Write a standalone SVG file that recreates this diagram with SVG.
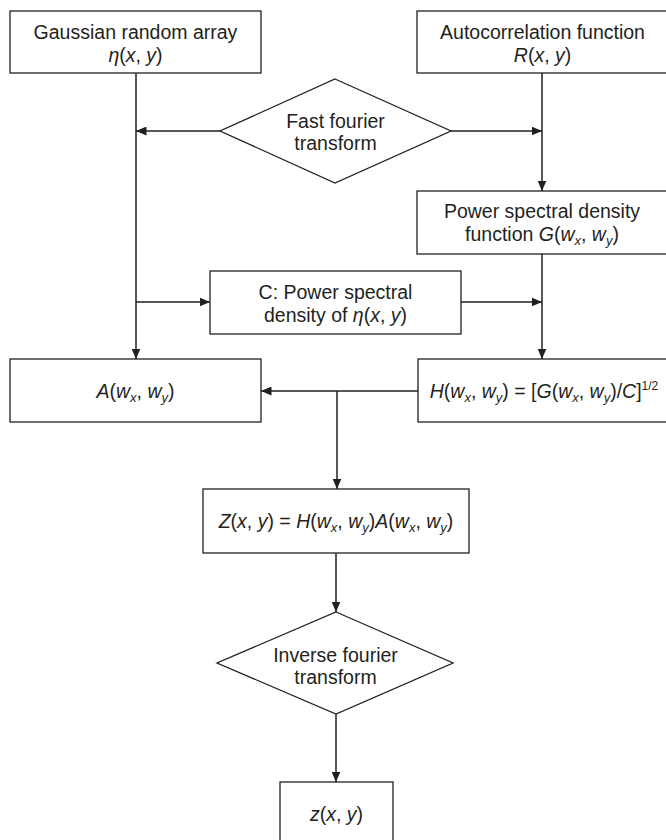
<svg xmlns="http://www.w3.org/2000/svg" width="666" height="840" viewBox="0 0 666 840">
<style>
.box{fill:#fff;stroke:#231f20;stroke-width:1.3}
.t{font-family:"Liberation Sans",Arial,sans-serif;font-size:19.5px;fill:#231f20;text-anchor:middle}
.i{font-style:italic}
.sub{font-size:13px;font-style:italic}
.sup{font-size:12px}
.c{stroke:#231f20;stroke-width:1.5;fill:none;marker-end:url(#ah)}
</style>
<defs>
<marker id="ah" markerUnits="userSpaceOnUse" markerWidth="11" markerHeight="9" refX="10.5" refY="4.5" orient="auto">
<path d="M0,0 L10.5,4.5 L0,9 z" fill="#231f20"/>
</marker>
</defs>
<rect width="666" height="840" fill="#fff"/>

<g id="connectors">
<line class="c" x1="136" y1="73" x2="136" y2="359"/>
<line class="c" x1="220" y1="131" x2="136" y2="131"/>
<line class="c" x1="451" y1="131" x2="542" y2="131"/>
<line class="c" x1="542" y1="73" x2="542" y2="191"/>
<line class="c" x1="136" y1="302" x2="210" y2="302"/>
<line class="c" x1="461" y1="302" x2="542" y2="302"/>
<line class="c" x1="542" y1="254" x2="542" y2="359"/>
<line class="c" x1="418" y1="391" x2="261" y2="391"/>
<line class="c" x1="337" y1="391" x2="337" y2="489"/>
<line class="c" x1="336" y1="553" x2="336" y2="612"/>
<line class="c" x1="336" y1="714" x2="336" y2="782"/>
</g>

<g id="gaussian">
<rect class="box" x="10" y="11" width="251" height="62"/>
<text class="t" x="135.5" y="38.5">Gaussian random array</text>
<text class="t" x="135.5" y="61.5"><tspan class="i">η</tspan>(<tspan class="i">x</tspan>, <tspan class="i">y</tspan>)</text>
</g>

<g id="autocorrelation">
<rect class="box" x="417" y="11" width="252" height="62"/>
<text class="t" x="542.5" y="38.5">Autocorrelation function</text>
<text class="t" x="542.5" y="61.5"><tspan class="i">R</tspan>(<tspan class="i">x</tspan>, <tspan class="i">y</tspan>)</text>
</g>

<g id="fft">
<polygon class="box" points="335,79 451,131 335,183 220,131"/>
<text class="t" x="335.5" y="127.5">Fast fourier</text>
<text class="t" x="335.5" y="150">transform</text>
</g>

<g id="psd">
<rect class="box" x="417" y="191" width="252" height="63"/>
<text class="t" x="542" y="218">Power spectral density</text>
<text class="t" x="542" y="241">function <tspan class="i">G</tspan>(<tspan class="i">w</tspan><tspan class="sub" dy="4">x</tspan><tspan dy="-4">, </tspan><tspan class="i">w</tspan><tspan class="sub" dy="4">y</tspan><tspan dy="-4">)</tspan></text>
</g>

<g id="c-psd">
<rect class="box" x="210" y="271" width="251" height="63"/>
<text class="t" x="335.5" y="298.5">C: Power spectral</text>
<text class="t" x="335.5" y="321.5">density of <tspan class="i">η</tspan>(<tspan class="i">x</tspan>, <tspan class="i">y</tspan>)</text>
</g>

<g id="a-node">
<rect class="box" x="10" y="359" width="251" height="63"/>
<text class="t" x="135.5" y="398"><tspan class="i">A</tspan>(<tspan class="i">w</tspan><tspan class="sub" dy="4">x</tspan><tspan dy="-4">, </tspan><tspan class="i">w</tspan><tspan class="sub" dy="4">y</tspan><tspan dy="-4">)</tspan></text>
</g>

<g id="h-node">
<rect class="box" x="418" y="359" width="251" height="63"/>
<text class="t" x="544" y="398"><tspan class="i">H</tspan>(<tspan class="i">w</tspan><tspan class="sub" dy="4">x</tspan><tspan dy="-4">, </tspan><tspan class="i">w</tspan><tspan class="sub" dy="4">y</tspan><tspan dy="-4">) = [</tspan><tspan class="i">G</tspan>(<tspan class="i">w</tspan><tspan class="sub" dy="4">x</tspan><tspan dy="-4">, </tspan><tspan class="i">w</tspan><tspan class="sub" dy="4">y</tspan><tspan dy="-4">)/</tspan><tspan class="i">C</tspan>]<tspan class="sup" dy="-8">1/2</tspan></text>
</g>

<g id="z-product">
<rect class="box" x="203" y="489" width="266" height="64"/>
<text class="t" x="336" y="528"><tspan class="i">Z</tspan>(<tspan class="i">x</tspan>, <tspan class="i">y</tspan>) = <tspan class="i">H</tspan>(<tspan class="i">w</tspan><tspan class="sub" dy="4">x</tspan><tspan dy="-4">, </tspan><tspan class="i">w</tspan><tspan class="sub" dy="4">y</tspan><tspan dy="-4">)</tspan><tspan class="i">A</tspan>(<tspan class="i">w</tspan><tspan class="sub" dy="4">x</tspan><tspan dy="-4">, </tspan><tspan class="i">w</tspan><tspan class="sub" dy="4">y</tspan><tspan dy="-4">)</tspan></text>
</g>

<g id="ifft">
<polygon class="box" points="336,612 453,663 336,714 217,663"/>
<text class="t" x="335.5" y="662">Inverse fourier</text>
<text class="t" x="335.5" y="684">transform</text>
</g>

<g id="z-out">
<rect class="box" x="280" y="782" width="113" height="70"/>
<text class="t" x="336.5" y="821"><tspan class="i">z</tspan>(<tspan class="i">x</tspan>, <tspan class="i">y</tspan>)</text>
</g>
</svg>
